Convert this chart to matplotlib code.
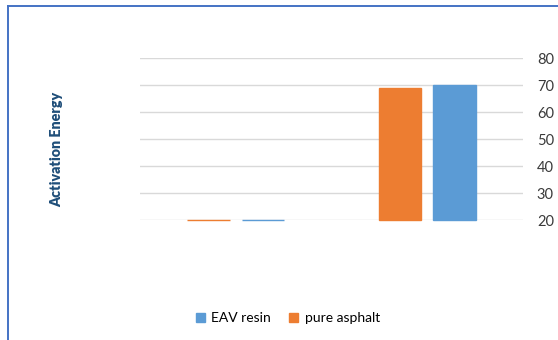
import matplotlib
matplotlib.use('Agg')
import matplotlib.pyplot as plt
from matplotlib.lines import Line2D
from matplotlib.patches import Patch
import numpy as np

# two samples, values in activation energy
categories = ['sample 1', 'sample 2']
pure_asphalt = [20, 69]
eav_resin = [20, 70]
y_ticks = [20, 30, 40, 50, 60, 70, 80]
y_min = 20

c_orange = '#ED7D31'
c_blue = '#5B9BD5'

plt.rcParams['font.family'] = ['Lato', 'DejaVu Sans']

fig = plt.figure(figsize=(5.58, 3.40), dpi=100)
ax = fig.add_axes([140/558, 1 - 220/340, 383/558, (220 - 58.3)/340])

x = np.arange(len(categories))
w = 0.223
off = 0.142
# bars start at the axis minimum so zero-height ones still show as a line
ax.bar(x - off, np.array(pure_asphalt) - y_min, bottom=y_min, width=w, color=c_orange,
       edgecolor=c_orange, linewidth=1.0, zorder=3, clip_on=False)
ax.bar(x + off, np.array(eav_resin) - y_min, bottom=y_min, width=w, color=c_blue,
       edgecolor=c_blue, linewidth=1.0, zorder=3, clip_on=False)

ax.set_xlim(-0.5, len(categories) - 0.5)
ax.set_ylim(y_min, 80)
ax.set_yticks(y_ticks)
ax.set_xticks([])
ax.yaxis.tick_right()
ax.tick_params(axis='y', length=0, pad=10, labelsize=10.5, labelcolor='#3a3a3a')
ax.grid(axis='y', color='#D9D9D9', linewidth=1, zorder=0)
for s in ax.spines.values():
    s.set_visible(False)

fig.text(57/558, 1 - 149/340, 'Activation Energy', rotation=90, ha='center', va='center',
         fontsize=10.3, fontweight='heavy', color='#1F4E79')

handles = [Patch(color=c_blue, label='EAV resin'), Patch(color=c_orange, label='pure asphalt')]
fig.legend(handles=handles, loc='center', bbox_to_anchor=(288/558, 1 - 318/340), ncol=2,
           frameon=False, fontsize=10, handlelength=0.6, handleheight=0.6,
           handletextpad=0.5, columnspacing=1.3)

# frame lines around the chart
fig.add_artist(Line2D([8/558, 8/558], [0, 1 - 5.5/340], color='#4472C4', linewidth=1.4))
fig.add_artist(Line2D([8/558, 1], [1 - 5.5/340, 1 - 5.5/340], color='#4472C4', linewidth=1.4))

fig.savefig('out.png', dpi=100)
